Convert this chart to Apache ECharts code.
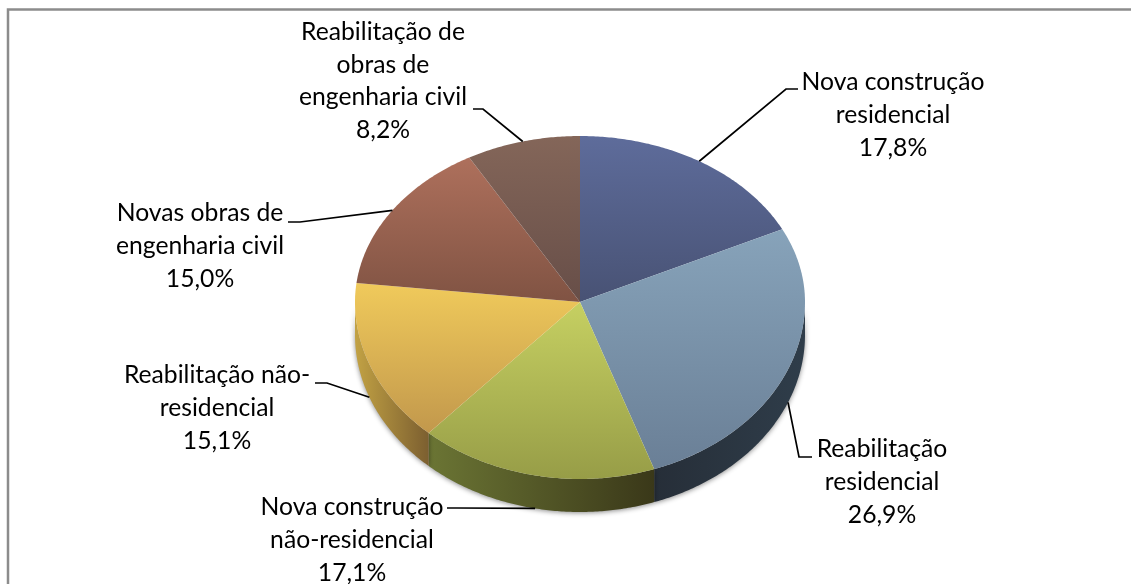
<!DOCTYPE html>
<html>
<head>
<meta charset="utf-8">
<style>html,body{margin:0;padding:0;background:#fff}#main{width:1131px;height:584px}</style>
<script src="https://cdn.jsdelivr.net/npm/echarts@6/dist/echarts.min.js"></script>
</head>
<body>
<div id="main"></div>
<script>
var categories = ['Nova construção\nresidencial', 'Reabilitação\nresidencial', 'Nova construção\nnão-residencial', 'Reabilitação não-\nresidencial', 'Novas obras de\nengenharia civil', 'Reabilitação de\nobras de\nengenharia civil'];
var values = [17.8, 26.9, 17.1, 15.1, 15.0, 8.2];

// colours: top of the slice, bottom of the slice, wall left, wall right
var topColors = [['#5e6c9b', '#485274'], ['#87a3ba', '#6a7f96'], ['#c6d062', '#979d47'], ['#f0ca5b', '#c2984c'], ['#ae705c', '#805343'], ['#846659', '#674e48']];
var wallColors = [['#2a3744', '#2a3744'], ['#262e38', '#2f3d4a'], ['#6b7534', '#3a3819'], ['#c2a244', '#7c5f30'], ['#5a3a30', '#5a3a30'], ['#4a3a34', '#4a3a34']];

// label centre and the leader line knees, in page pixels
var labelPos = [[893, 115], [882, 482], [352, 540], [217, 408], [200, 246], [383, 81]];
var leaderKnees = [[[786, 89], [798, 89]], [[799, 457], [812, 457]], [[457, 508], [447, 508]], [[327, 383], [315, 383]], [[300, 222], [288, 222]], [[483, 109], [473, 109]]];

var cx = 580, cy = 302, rx = 225, ryUp = 166, ryDown = 177, depth = 33;
var total = 0;
for (var i = 0; i < values.length; i++) total += values[i];

function pt(a, dy) {
	var c = Math.cos(a);
	return [cx + rx * Math.sin(a), cy - c * (c > 0 ? ryUp : ryDown) + (dy || 0)];
}
function arc(a0, a1, dy) {
	var pts = [], n = Math.max(2, Math.ceil((a1 - a0) / 0.01));
	for (var k = 0; k <= n; k++) pts.push(pt(a0 + (a1 - a0) * k / n, dy));
	return pts;
}
function grad(c, horizontal) {
	return new echarts.graphic.LinearGradient(0, 0, horizontal ? 1 : 0, horizontal ? 0 : 1, [{offset: 0, color: c[0]}, {offset: 1, color: c[1]}]);
}

function renderSlice(params, api) {
	var idx = params.dataIndex, before = 0;
	for (var j = 0; j < idx; j++) before += values[j];
	var a0 = before / total * Math.PI * 2;
	var a1 = (before + api.value(0)) / total * Math.PI * 2;
	var mid = (a0 + a1) / 2;
	var children = [];

	// side wall, only the part on the lower half shows
	var w0 = Math.max(a0, Math.PI / 2), w1 = Math.min(a1, Math.PI * 1.5);
	if (w1 > w0) {
		children.push({
			type: 'polygon', z2: 1,
			shape: {points: arc(w0, w1, 0).concat(arc(w0, w1, depth).reverse())},
			style: {fill: grad(wallColors[idx], true), shadowBlur: 5, shadowColor: 'rgba(0,0,0,0.45)', shadowOffsetY: 1}
		});
	}
	children.push({
		type: 'polygon', z2: 5,
		shape: {points: [[cx, cy]].concat(arc(a0, a1, 0))},
		style: {fill: grad(topColors[idx], false)}
	});

	// leader line starts from the middle of the slice edge
	var onWall = Math.cos(mid) < 0;
	var line = [pt(mid, onWall ? depth : 0)].concat(leaderKnees[idx]);
	children.push({
		type: 'polyline', z2: 8,
		shape: {points: line},
		style: {fill: null, stroke: '#000', lineWidth: 1.7}
	});
	children.push({
		type: 'text', z2: 10,
		x: labelPos[idx][0], y: labelPos[idx][1],
		style: {
			text: categories[idx] + '\n' + api.value(0).toFixed(1).replace('.', ',') + '%',
			font: '24.7px Lato',
			lineHeight: 32.7,
			fill: '#000',
			align: 'center',
			verticalAlign: 'middle'
		}
	});
	return {type: 'group', children: children};
}

var myChart = echarts.init(document.getElementById('main'));
var option = {
	backgroundColor: '#fff',
	animation: false,
	graphic: [{
		type: 'rect', silent: true,
		shape: {x: 8, y: 9.5, width: 1140, height: 600},
		style: {fill: null, stroke: '#8c8c8c', lineWidth: 2.5}
	}],
	series: [{
		type: 'custom',
		coordinateSystem: 'none',
		renderItem: renderSlice,
		data: values
	}]
};
myChart.setOption(option);
</script>
</body>
</html>
